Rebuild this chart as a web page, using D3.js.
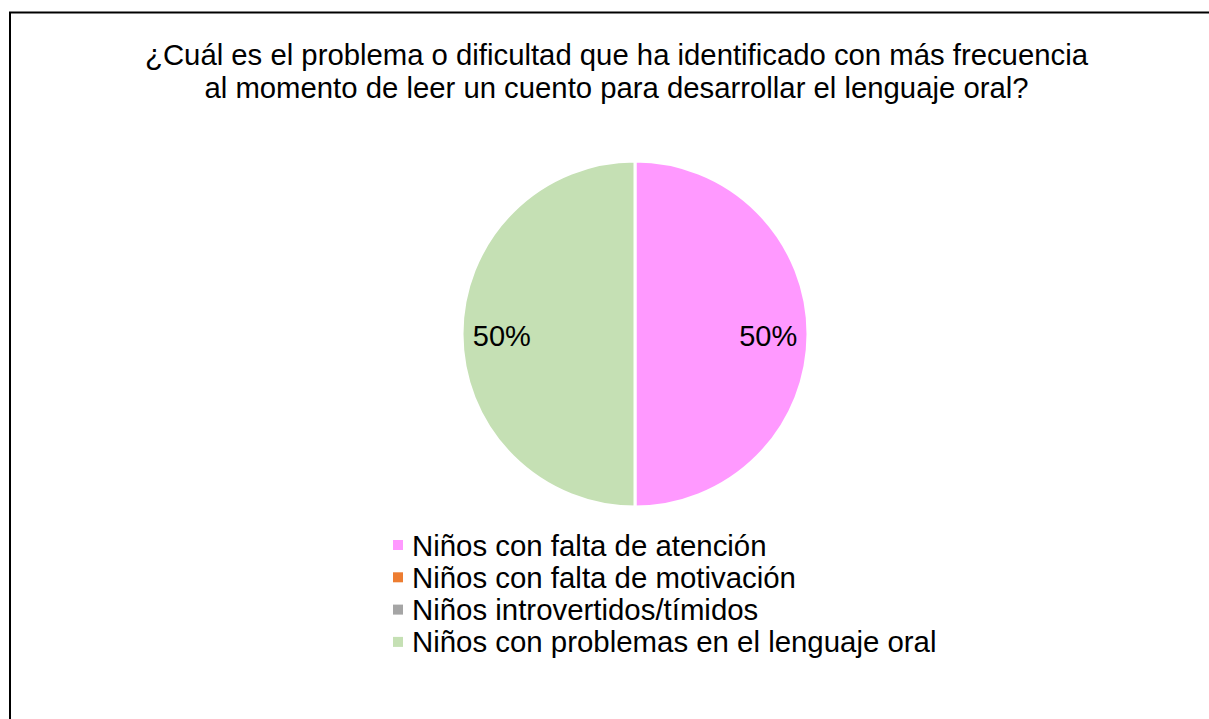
<!DOCTYPE html>
<html>
<head>
<meta charset="utf-8">
<script src="https://cdn.jsdelivr.net/npm/d3@7"></script>
<style>
  html, body { margin: 0; padding: 0; background: #fff; }
  svg text { font-family: "Liberation Sans", Arial, sans-serif; fill: #000; }
</style>
</head>
<body>
<svg id="canvas"></svg>
<script>
const WIDTH = 1209;
const HEIGHT = 719;

const titleLines = [
  "¿Cuál es el problema o dificultad que ha identificado con más frecuencia",
  "al momento de leer un cuento para desarrollar el lenguaje oral?",
];
const categories = [
  "Niños con falta de atención",
  "Niños con falta de motivación",
  "Niños introvertidos/tímidos",
  "Niños con problemas en el lenguaje oral",
];
const values = [50, 0, 0, 50];
const colors = ["#FF99FF", "#ED7D31", "#A5A5A5", "#C5E0B4"];

const CX = 635;
const CY = 334;
const R = 173;

const canvas = d3.select("#canvas").attr("width", WIDTH).attr("height", HEIGHT);

// frame
canvas
  .append("rect")
  .attr("x", 10)
  .attr("y", 12.5)
  .attr("width", 1400)
  .attr("height", 900)
  .attr("fill", "none")
  .attr("stroke", "#000")
  .attr("stroke-width", 2);

// title
canvas
  .selectAll(".title")
  .data(titleLines)
  .enter()
  .append("text")
  .attr("class", "title")
  .attr("x", 616.5)
  .attr("y", (d, i) => 65 + i * 33)
  .attr("text-anchor", "middle")
  .style("font-size", "29.3px")
  .text((d) => d);

const total = d3.sum(values);
const color = d3.scaleOrdinal().domain(categories).range(colors);

const pie = d3
  .pie()
  .sort(null)
  .value((d) => d.value);
const arcs = pie(categories.map((c, i) => ({ name: c, value: values[i] })));

const arc = d3.arc().innerRadius(0).outerRadius(R);
const labelArc = d3.arc().innerRadius(R * 0.77).outerRadius(R * 0.77);

const g = canvas.append("g").attr("transform", "translate(" + CX + "," + CY + ")");

g.selectAll("path")
  .data(arcs.filter((d) => d.value > 0))
  .enter()
  .append("path")
  .attr("d", arc)
  .attr("fill", (d) => color(d.data.name))
  .attr("stroke", "#fff")
  .attr("stroke-width", 3);

g.selectAll(".label")
  .data(arcs.filter((d) => d.value > 0))
  .enter()
  .append("text")
  .attr("class", "label")
  .attr("transform", (d) => "translate(" + labelArc.centroid(d) + ")")
  .attr("text-anchor", "middle")
  .attr("dy", "0.4em")
  .style("font-size", "29px")
  .text((d) => Math.round((d.value / total) * 100) + "%");

// legend
const legend = canvas
  .selectAll(".legend")
  .data(categories)
  .enter()
  .append("g")
  .attr("class", "legend")
  .attr("transform", (d, i) => "translate(393," + (545 + i * 32.3) + ")");

legend
  .append("rect")
  .attr("x", 0)
  .attr("y", -5)
  .attr("width", 10)
  .attr("height", 10)
  .attr("fill", (d) => color(d));

legend
  .append("text")
  .attr("x", 19)
  .attr("y", 0)
  .attr("dy", "0.36em")
  .style("font-size", "29.4px")
  .text((d) => d);
</script>
</body>
</html>
